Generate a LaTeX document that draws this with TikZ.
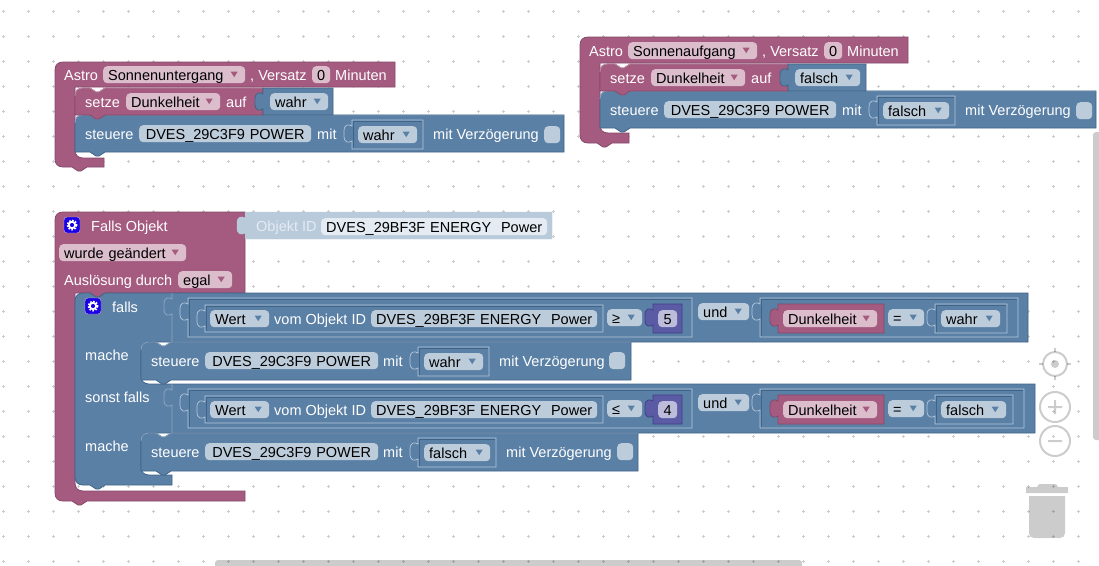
\documentclass[tikz,border=0pt]{standalone}
\usepackage{fontspec}
\setmainfont{Liberation Sans}
\definecolor{pinkfill}{HTML}{A55B80}
\definecolor{pinkfield}{HTML}{DBBDCC}
\definecolor{pinkedge}{HTML}{84496A}
\definecolor{pinkshine}{HTML}{C08DA6}
\definecolor{bluefill}{HTML}{5B80A5}
\definecolor{bluefield}{HTML}{BDCCDB}
\definecolor{blueedge}{HTML}{3F6488}
\definecolor{blueshine}{HTML}{8CA6C0}
\definecolor{bluehigh}{HTML}{B4C8DC}
\definecolor{purplefill}{HTML}{5B5BA5}
\definecolor{purplefield}{HTML}{BDBDDB}
\definecolor{purpleedge}{HTML}{3F3F88}
\definecolor{ghostfill}{HTML}{B9CADB}
\definecolor{ghostfield}{HTML}{E4EBF2}
\newcommand{\blockfont}{\fontsize{14.5pt}{17pt}\selectfont}
% tint, x, y, width, height
\newcommand{\stmtblock}[5]{%
  \draw[#1block] (#2+#4,#3) -- (#2+#4,#3+#5) -- (#2+30,#3+#5) -- ++(-6,4) -- ++(-3,0) -- ++(-6,-4) -- (#2,#3+#5) -- (#2,#3+8)
    .. controls (#2,#3+3) and (#2+3,#3) .. (#2+8,#3) -- (#2+15,#3) -- ++(6,4) -- ++(3,0) -- ++(6,-4) -- cycle;
  \draw[#1rim] (#2,#3+8) .. controls (#2,#3+3) and (#2+3,#3) .. (#2+8,#3) -- (#2+15,#3) -- ++(6,4) -- ++(3,0) -- ++(6,-4) -- (#2+#4,#3);}
% style, x1, y1, x2, y2
\newcommand{\valueblock}[5]{%
  \draw[#1] (#2,#3) -- (#4,#3) -- (#4,#5) -- (#2,#5) -- (#2,#3+21) .. controls (#2-3,#3+23) and (#2-8,#3+23) .. (#2-8,#3+16)
    -- (#2-8,#3+11) .. controls (#2-8,#3+4) and (#2-3,#3+4) .. (#2,#3+6) -- cycle;}
\begin{document}
\begin{tikzpicture}[x=1pt, y=-1pt,
    every node/.style={font=\blockfont},
    griddot/.style={draw=black!20, line width=.6pt},
    pinkblock/.style={fill=pinkfill, draw=pinkedge, line width=.8pt},
    pinkrim/.style={draw=pinkshine, line width=.8pt},
    blueblock/.style={fill=bluefill, draw=blueedge, line width=.8pt},
    bluerim/.style={draw=blueshine, line width=.8pt},
    purpleblock/.style={fill=purplefill, draw=purpleedge, line width=.8pt},
    ghostblock/.style={fill=ghostfill, draw=ghostfill},
    insetframe/.style={draw=bluehigh, line width=.7pt},
    insetdark/.style={draw=blueedge, line width=.7pt},
    blocklabel/.style={text=white, anchor=base west, inner sep=0pt},
    field/.style 2 args={anchor=north west, fill=#1field, rounded corners=4pt, inner xsep=5pt, inner ysep=0pt,
      text height=14pt, text depth=3pt, text width=#2pt-10pt, align=center},
    ddfield/.style 2 args={field={#1}{#2}, align=left,
      path picture={\fill[fill=#1fill, sharp corners] ([xshift=-14.5pt,yshift=3pt]path picture bounding box.east) -- ++(7,0) -- ++(-3.5,5.5) -- cycle;}},
    gearbox/.style={fill=blue!80!violet, draw=white!70!violet, rounded corners=3pt, minimum size=16pt, inner sep=0pt},
    uipart/.style={black, opacity=.2}]
  \useasboundingbox (0,0) rectangle (1099,565);
  \fill[white] (0,0) rectangle (1099,565);
  \draw[griddot] \foreach \gx in {3,28,...,1098}{\foreach \gy in {11,36,...,561}{
    (\gx-1.5,\gy) -- ++(3,0) (\gx,\gy-1.5) -- ++(0,3)}};

  \draw[pinkblock] (395,62) -- (395,87) -- (75,87) -- (75,150) .. controls (75,155) and (78,158) .. (83,158) -- (104,158) -- (104,167)
    -- (87,167) -- ++(-6,4) -- ++(-3,0) -- ++(-6,-4) -- (63,167) .. controls (58,167) and (55,164) .. (55,159)
    -- (55,70) .. controls (55,65) and (58,62) .. (63,62) -- cycle;
  \stmtblock{blue}{75}{115}{489}{37}
  \stmtblock{pink}{75}{88}{188}{27}
  \valueblock{blueblock}{263}{88}{333}{115}

  \draw[pinkblock] (908,37) -- (908,63) -- (600,63) -- (600,125) .. controls (600,130) and (603,133) .. (608,133) -- (629,133) -- (629,143)
    -- (612,143) -- ++(-6,4) -- ++(-3,0) -- ++(-6,-4) -- (588,143) .. controls (583,143) and (580,140) .. (580,135)
    -- (580,45) .. controls (580,40) and (583,37) .. (588,37) -- cycle;
  \stmtblock{blue}{600}{91}{496}{37}
  \stmtblock{pink}{600}{64}{188}{27}
  \valueblock{blueblock}{788}{64}{866}{91}

  \draw[pinkblock] (245,212) -- (245,293) -- (105,293) -- ++(-6,4) -- ++(-3,0) -- ++(-6,-4) -- (75,293) -- (75,483)
    .. controls (75,488) and (78,491) .. (83,491) -- (245,491) -- (245,501) -- (87,501) -- ++(-6,4) -- ++(-3,0) -- ++(-6,-4) -- (63,501)
    .. controls (58,501) and (55,498) .. (55,493) -- (55,220) .. controls (55,215) and (58,212) .. (63,212) -- cycle;
  \valueblock{ghostblock}{245}{212}{552}{239}
  \draw[blueblock] (1028,293) -- (1028,342) -- (149,342) .. controls (144,342) and (141,345) .. (141,350) -- (141,376)
    .. controls (141,381) and (144,384) .. (149,384) -- (1035,384) -- (1035,433) -- (149,433) .. controls (144,433) and (141,436) .. (141,441)
    -- (141,467) .. controls (141,472) and (144,475) .. (149,475) -- (172,475) -- (172,485) -- (105,485) -- ++(-6,4) -- ++(-3,0) -- ++(-6,-4)
    -- (83,485) .. controls (78,485) and (75,482) .. (75,477) -- (75,301) .. controls (75,296) and (78,293) .. (83,293) -- (90,293)
    -- ++(6,4) -- ++(3,0) -- ++(6,-4) -- cycle;
  \stmtblock{blue}{141}{342}{490}{38}
  \stmtblock{blue}{141}{433}{497}{38}

  \foreach \ya in {293,384}{
    \draw[bluerim] (172,\ya) -- (172,\ya+6) .. controls (169,\ya+4) and (164,\ya+4) .. (164,\ya+11) -- (164,\ya+16)
      .. controls (164,\ya+23) and (169,\ya+23) .. (172,\ya+21) -- (172,\ya+49);
  }
  \foreach \xa/\ya/\xb/\yb in {352/120/423/149, 877/96/955/125, 418/347/489/376, 418/438/496/467,
      188/298/692/337, 205/305/603/332, 760/298/1018/337, 935/304/1007/333,
      188/389/692/428, 205/396/603/423, 760/389/1024/428, 935/395/1013/424}{
    \valueblock{insetframe}{\xa}{\ya}{\xb}{\yb}
    \draw[insetdark] (\xa+1,\yb-1) -- (\xa+1,\ya+1) -- (\xb-1,\ya+1);
  }
  \foreach \ya in {304,395}{
    \valueblock{purpleblock}{653}{\ya}{682}{\ya+29}
    \valueblock{pinkblock}{778}{\ya}{884}{\ya+29}
  }

  \foreach \nam/\tint/\x/\y/\w/\txt in {
      sunsetfield/pink/103/66/142/Sonnenuntergang, darkfielda/pink/126/93/94/Dunkelheit, wahrfielda/blue/270/93/58/wahr, wahrfieldb/blue/358/126/59/wahr,
      sunrisefield/pink/628/42/129/Sonnenaufgang, darkfieldb/pink/651/69/94/Dunkelheit, falschfielda/blue/795/69/65/falsch, falschfieldb/blue/883/102/66/falsch,
      changefield/pink/59/244/127/wurde geändert, egalfield/pink/178/271/54/egal,
      wertfielda/blue/210/310/59/Wert, gefield/blue/607/309/35/≥, undfielda/blue/698/303/51/und, darkfieldc/pink/783/310/94/Dunkelheit, eqfielda/blue/888/309/36/=, wahrfieldc/blue/941/310/59/wahr,
      wahrfieldd/blue/424/353/59/wahr,
      wertfieldb/blue/210/401/59/Wert, lefield/blue/607/400/35/≤, undfieldb/blue/698/394/51/und, darkfieldd/pink/783/401/94/Dunkelheit, eqfieldb/blue/888/400/36/=, falschfieldc/blue/941/401/65/falsch,
      falschfieldd/blue/424/444/66/falsch}{
    \node[ddfield={\tint}{\w}] (\nam) at (\x,\y) {\txt};
  }
  \foreach \nam/\tint/\x/\y/\w/\txt in {
      nullfielda/pink/312/66/18/0, powerfielda/blue/139/125/172/DVES\_29C3F9 POWER,
      nullfieldb/pink/824/42/18/0, powerfieldb/blue/664/101/172/DVES\_29C3F9 POWER,
      objektfield/ghost/321/218/226/DVES\_29BF3F ENERGY\ \ Power,
      energyfielda/blue/371/310/226/DVES\_29BF3F ENERGY\ \ Power, fivefield/purple/658/310/19/5,
      powerfieldc/blue/205/352/173/DVES\_29C3F9 POWER,
      energyfieldb/blue/371/401/226/DVES\_29BF3F ENERGY\ \ Power, fourfield/purple/658/401/19/4,
      powerfieldd/blue/205/443/173/DVES\_29C3F9 POWER}{
    \node[field={\tint}{\w}] (\nam) at (\x,\y) {\makebox[\linewidth]{\txt}};
  }
  \foreach \nam/\x/\y in {checka/544/126, checkb/1076/102, checkc/609/352, checkd/617/443}{
    \node[field={blue}{16}] (\nam) at (\x,\y) {};
  }

  \foreach \nam/\x/\y/\txt in {
      astroa/64/80/Astro, versatza/250/80/{, Versatz}, minutena/335/80/Minuten, setzea/85/107/setze, aufa/226/107/auf,
      steuerea/85/139/steuere, mita/317/139/mit, verza/433/139/mit Verzögerung,
      astrob/589/56/Astro, versatzb/762/56/{, Versatz}, minutenb/847/56/Minuten, setzeb/610/83/setze, aufb/751/83/auf,
      steuereb/610/115/steuere, mitb/842/115/mit, verzb/965/115/mit Verzögerung,
      fallsobjekt/91/231/Falls Objekt, ausloesung/64/285/Auslösung durch, falls/112/312/falls, vomobjekta/274/324/vom Objekt ID,
      machea/85/360/mache, steuerec/151/366/steuere, mitc/383/366/mit, verzc/499/366/mit Verzögerung,
      sonstfalls/85/402/sonst falls, vomobjektb/274/415/vom Objekt ID,
      macheb/85/451/mache, steuered/151/457/steuere, mitd/383/457/mit, verzd/506/457/mit Verzögerung}{
    \node[blocklabel] (\nam) at (\x,\y) {\txt};
  }
  \node[blocklabel, text=ghostfield] (objektid) at (256,231) {Objekt ID};

  \foreach \nam/\x/\y in {geara/72/225, gearb/93/306}{
    \node[gearbox] (\nam) at (\x,\y) {};
    \draw[white, line width=1.8pt] (\x,\y) circle (3.2);
    \draw[white, line width=1.6pt, dash pattern=on 1.6pt off 1.5pt] (\x,\y) circle (4.7);
  }

  \draw[uipart, line width=2pt] (1055,364) circle (12);
  \foreach \ang in {0,90,180,270}{
    \draw[uipart, line width=2pt] (1055,364) ++(\ang:12) -- ++(\ang:4);
  }
  \fill[uipart] (1055,364) circle (4);
  \draw[uipart, line width=2pt] (1055,407) circle (15) (1048,407) -- (1062,407) (1055,400) -- (1055,414);
  \draw[uipart, line width=2pt] (1055,441) circle (15) (1048,441) -- (1062,441);
  \fill[uipart] (1026,487) -- (1037,487) .. controls (1038,484) and (1039,484) .. (1041,484) -- (1054,484)
    .. controls (1056,484) and (1057,484) .. (1058,487) -- (1068,487) -- (1068,493) -- (1026,493) -- cycle;
  \fill[uipart] (1029,496) -- (1065,496) -- (1065,533) .. controls (1065,536) and (1063,538) .. (1060,538) -- (1034,538)
    .. controls (1031,538) and (1029,536) .. (1029,533) -- cycle;
  \fill[uipart, rounded corners=3pt] (1093,132) rectangle (1105,440);
  \fill[uipart, rounded corners=3pt] (215,560) rectangle (802,570);
\end{tikzpicture}
\end{document}
